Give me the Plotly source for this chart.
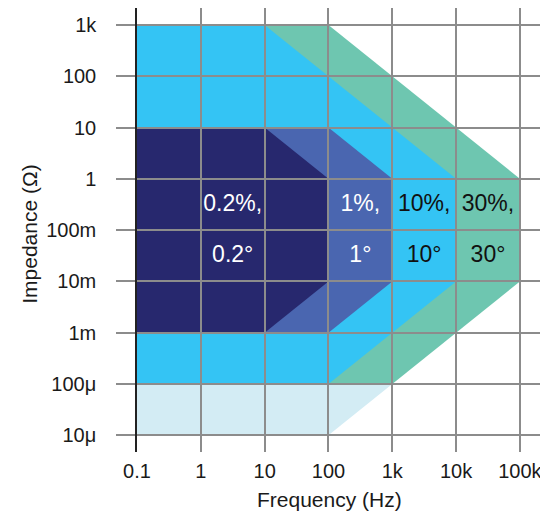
import plotly.graph_objects as go

# Axis ticks
freq_ticks = [0.1, 1, 10, 100, 1e3, 1e4, 1e5]
freq_labels = ["0.1", "1", "10", "100", "1k", "10k", "100k"]
imp_ticks = [1e-5, 1e-4, 1e-3, 1e-2, 1e-1, 1, 10, 100, 1e3]
imp_labels = ["10\u03bc", "100\u03bc", "1m", "10m", "100m", "1", "10", "100", "1k"]

# Accuracy regions (polygon vertices: frequency Hz, impedance Ohm)
light_f = [0.1, 100, 1e3, 0.1]
light_z = [1e-5, 1e-5, 1e-4, 1e-4]

green_f = [0.1, 100, 1e5, 1e5, 1e3, 0.1]
green_z = [1e3, 1e3, 1, 1e-2, 1e-4, 1e-4]

sky_f = [0.1, 10, 1e4, 1e4, 100, 0.1]
sky_z = [1e3, 1e3, 1, 1e-2, 1e-4, 1e-4]

mid_f = [0.1, 100, 1e3, 1e3, 100, 0.1]
mid_z = [10, 10, 1, 1e-2, 1e-3, 1e-3]

navy_f = [0.1, 10, 100, 100, 10, 0.1]
navy_z = [10, 10, 1, 1e-2, 1e-3, 1e-3]

regions = [
    (light_f, light_z, "#D3ECF4"),
    (green_f, green_z, "#6EC6B0"),
    (sky_f, sky_z, "#34C4F4"),
    (mid_f, mid_z, "#4A66B0"),
    (navy_f, navy_z, "#27286E"),
]

# Labels
label_f = [3.16, 3.16, 316, 316, 3160, 3160, 31600, 31600]
label_z = [0.30, 0.0316, 0.30, 0.0316, 0.30, 0.0316, 0.30, 0.0316]
label_text = ["0.2%,", "0.2\u00b0", "1%,", "1\u00b0", "10%,", "10\u00b0", "30%,", "30\u00b0"]
label_color = ["white", "white", "white", "white", "#111111", "#111111", "#111111", "#111111"]

FONT = "Liberation Sans, Arial, Helvetica, sans-serif"
GRID = "#8c8c8c"
TXT = "#1a1a1a"

fig = go.Figure()

shapes = []
for fs, zs, col in regions:
    path = "M " + " L ".join(f"{f},{z}" for f, z in zip(fs, zs)) + " Z"
    shapes.append(dict(type="path", path=path, xref="x", yref="y",
                       fillcolor=col, line=dict(width=0), layer="below"))

fig.add_trace(go.Scatter(
    x=label_f, y=label_z, mode="text", text=label_text,
    textfont=dict(family=FONT, size=23, color=label_color),
    textposition="middle center", hoverinfo="skip", showlegend=False,
))

# page body has an 8px margin, so the figure is 8px smaller on each axis
fig.update_layout(
    width=540, height=509,
    margin=dict(l=129, r=0, t=0, b=65),
    paper_bgcolor="white", plot_bgcolor="white",
    shapes=shapes,
    showlegend=False,
    font=dict(family=FONT, size=20, color=TXT),
    xaxis=dict(
        type="log", range=[-1, 5.44], automargin=False,
        tickvals=freq_ticks, ticktext=freq_labels,
        showgrid=True, gridcolor=GRID, gridwidth=1.5,
        showline=False, zeroline=False, ticks="",
        ticklabelstandoff=5,
        tickfont=dict(family=FONT, size=20, color=TXT),
    ),
    yaxis=dict(
        type="log", range=[-5.325, 3.33], automargin=False,
        tickvals=imp_ticks, ticktext=imp_labels,
        showgrid=True, gridcolor=GRID, gridwidth=1.5,
        showline=True, linecolor="#222", linewidth=1.5,
        zeroline=False, ticks="outside", ticklen=19, tickcolor=GRID, tickwidth=1.5,
        ticklabelstandoff=16,
        tickfont=dict(family=FONT, size=20, color=TXT),
    ),
    annotations=[
        dict(text="Frequency (Hz)", xref="paper", yref="paper",
             x=(329 - 137) / 411, y=-0.106, xanchor="center", yanchor="middle",
             showarrow=False, font=dict(family=FONT, size=21, color=TXT)),
        dict(text="Impedance (\u03a9)", xref="paper", yref="paper",
             x=-0.262, y=0.49, xanchor="center", yanchor="middle", textangle=-90,
             showarrow=False, font=dict(family=FONT, size=21, color=TXT)),
    ],
)

fig.write_html("out.html")
